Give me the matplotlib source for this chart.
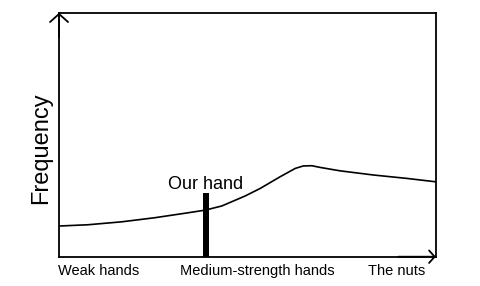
import numpy as np
import matplotlib.pyplot as plt

plt.rcParams['font.family'] = ['Liberation Sans', 'DejaVu Sans']

# hand strength (0 = weakest, 1 = the nuts) vs frequency
strength = [0.003, 0.077, 0.166, 0.255, 0.342, 0.388, 0.432, 0.494, 0.534,
            0.587, 0.627, 0.648, 0.671, 0.693, 0.746, 0.834, 0.923, 1.0]
frequency = [0.126, 0.131, 0.143, 0.160, 0.180, 0.191, 0.208, 0.249, 0.280,
             0.328, 0.362, 0.372, 0.373, 0.366, 0.352, 0.335, 0.321, 0.307]

our_hand_x = 0.39
our_hand_h = 0.26

tick_pos = [0.105, 0.527, 0.896]
tick_labels = ['Weak hands', 'Medium-strength hands', 'The nuts']

fig = plt.figure(figsize=(4.8, 2.86), dpi=100)
ax = fig.add_axes((0.123, 0.1024, 0.785, 0.853))

ax.plot(strength, frequency, color='black', lw=1.2, solid_joinstyle='round')
ax.bar([our_hand_x], [our_hand_h], width=0.015, color='black')
ax.text(our_hand_x, our_hand_h + 0.019, 'Our hand', ha='center', va='baseline', fontsize=13)

ax.set_xlim(0, 1)
ax.set_ylim(0, 1)
ax.set_xticks(tick_pos)
ax.set_xticklabels(tick_labels, fontsize=10.5)
ax.set_yticks([])
ax.tick_params(axis='x', length=0, pad=5)
for s in ax.spines.values():
    s.set_linewidth(1.3)

# arrowheads on the axes
ax.annotate('', xy=(0, 1.0), xytext=(0, 0.9), xycoords='axes fraction',
            arrowprops=dict(arrowstyle='->,head_length=0.58,head_width=0.65', lw=1.3, color='black',
                            shrinkA=0, shrinkB=0))
ax.annotate('', xy=(1.0, 0), xytext=(0.9, 0), xycoords='axes fraction',
            arrowprops=dict(arrowstyle='->,head_length=0.4,head_width=0.45', lw=1.3, color='black',
                            shrinkA=0, shrinkB=0))

fig.text(41/480, 1 - 148/286, 'Frequency', rotation=90, ha='center', va='center', fontsize=17)

fig.savefig('out.png')
